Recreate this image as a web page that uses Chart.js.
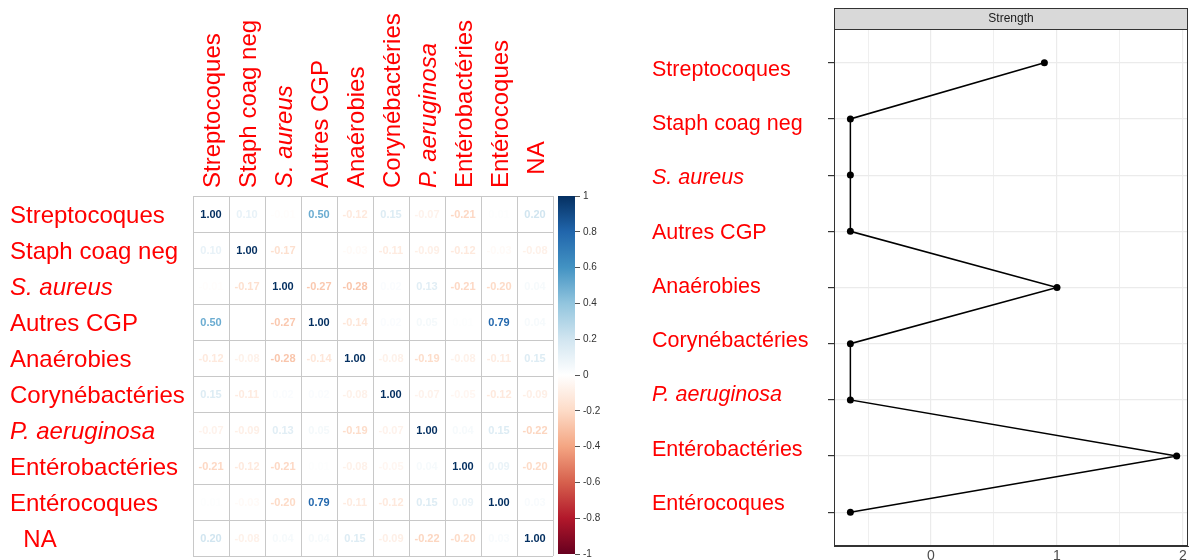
<!DOCTYPE html>
<html><head><meta charset="utf-8">
<script src="https://cdn.jsdelivr.net/npm/chart.js@4.4.1/dist/chart.umd.min.js"></script>
<style>
html,body{margin:0;padding:0;background:#fff;}
body{width:1192px;height:560px;position:relative;overflow:hidden;}
.box{position:absolute;top:0;height:560px;}
</style></head><body>
<div class="box" style="left:0;width:556px"><canvas id="corr"></canvas></div>
<div class="box" style="left:553px;width:67px"><canvas id="cbar"></canvas></div>
<div class="box" style="left:640px;width:552px"><canvas id="strength"></canvas></div>
<script>
// ---------- data ----------
const taxa = ["Streptocoques","Staph coag neg","S. aureus","Autres CGP","Anaérobies","Corynébactéries","P. aeruginosa","Entérobactéries","Entérocoques","  NA"];
const italicTaxa = ["S. aureus","P. aeruginosa"];
const rowStrep   = [1.00, 0.10, -0.01, 0.50, -0.12, 0.15, -0.07, -0.21, 0.01, 0.20];
const rowStaph   = [0.10, 1.00, -0.17, 0.00, -0.03, -0.11, -0.09, -0.12, -0.03, -0.08];
const rowSaureus = [-0.01, -0.17, 1.00, -0.27, -0.28, 0.02, 0.13, -0.21, -0.20, 0.04];
const rowAutres  = [0.50, 0.00, -0.27, 1.00, -0.14, 0.02, 0.05, 0.01, 0.79, 0.04];
const rowAnaer   = [-0.12, -0.08, -0.28, -0.14, 1.00, -0.08, -0.19, -0.08, -0.11, 0.15];
const rowCoryn   = [0.15, -0.11, 0.02, 0.02, -0.08, 1.00, -0.07, -0.05, -0.12, -0.09];
const rowPaer    = [-0.07, -0.09, 0.13, 0.05, -0.19, -0.07, 1.00, 0.04, 0.15, -0.22];
const rowEntBact = [-0.21, -0.12, -0.21, 0.01, -0.08, -0.05, 0.04, 1.00, 0.09, -0.20];
const rowEntCoq  = [0.01, -0.03, -0.20, 0.79, -0.11, -0.12, 0.15, 0.09, 1.00, 0.03];
const rowNA      = [0.20, -0.08, 0.04, 0.04, 0.15, -0.09, -0.22, -0.20, 0.03, 1.00];
const corrRows = [rowStrep,rowStaph,rowSaureus,rowAutres,rowAnaer,rowCoryn,rowPaer,rowEntBact,rowEntCoq,rowNA];
const colorbarTicks = [-1,-0.8,-0.6,-0.4,-0.2,0,0.2,0.4,0.6,0.8,1];
const rdbu = ["#67001F","#B2182B","#D6604D","#F4A582","#FDDBC7","#FFFFFF","#D1E5F0","#92C5DE","#4393C3","#2166AC","#053061"];
const strengthLabels = ["Streptocoques","Staph coag neg","S. aureus","Autres CGP","Anaérobies","Corynébactéries","P. aeruginosa","Entérobactéries","Entérocoques"];
const strengthValues = [0.90, -0.64, -0.64, -0.64, 1.00, -0.64, -0.64, 1.95, -0.64];
const strengthTicks = [-0.5, 0, 0.5, 1, 1.5, 2];

// ---------- helpers ----------
const FAMILY = '"Liberation Sans", Arial, Helvetica, sans-serif';
Chart.defaults.font.family = FAMILY;
function hex(c){return [parseInt(c.slice(1,3),16),parseInt(c.slice(3,5),16),parseInt(c.slice(5,7),16)];}
function corrColor(v){
  const t = Math.max(0, Math.min(10, (v+1)/2*10));
  const i = Math.min(9, Math.floor(t)), f = t - i;
  const a = hex(rdbu[i]), b = hex(rdbu[i+1]);
  return 'rgb(' + a.map((x,k)=>Math.round(x+(b[k]-x)*f)).join(',') + ')';
}
const isItalic = l => italicTaxa.includes(String(l).trim());
const noPad = s => { s.paddingTop = 0; s.paddingBottom = 0; s.paddingLeft = 0; s.paddingRight = 0; };

// ---------- correlation matrix ----------
const cells = [];
corrRows.forEach((row,i)=>row.forEach((v,j)=>cells.push({x:taxa[j], y:taxa[i], v:v})));
const cellText = {
  id:'cellText',
  afterDatasetsDraw(chart){
    const ctx = chart.ctx, meta = chart.getDatasetMeta(0);
    ctx.save();
    ctx.font = 'bold 11px ' + FAMILY;
    ctx.textAlign = 'center'; ctx.textBaseline = 'middle';
    meta.data.forEach((pt,k)=>{
      const v = cells[k].v;
      ctx.fillStyle = corrColor(v);
      ctx.fillText(v.toFixed(2), pt.x, pt.y + 0.5);
    });
    ctx.restore();
  }
};
const gridGrey = '#c8c8c8';
new Chart(document.getElementById('corr'), {
  type:'scatter',
  data:{datasets:[{data:cells, pointRadius:0, pointHoverRadius:0}]},
  options:{
    responsive:true, maintainAspectRatio:false, animation:false,
    layout:{padding:{left:10, right:3, top:0, bottom:4}},
    plugins:{legend:{display:false}, tooltip:{enabled:false}},
    events:[],
    scales:{
      x:{type:'category', labels:taxa, position:'top', offset:true,
         grid:{offset:true, color:gridGrey, drawTicks:false},
         border:{color:gridGrey},
         ticks:{color:'#ff0000', minRotation:90, maxRotation:90, autoSkip:false, padding:8, labelOffset:31,
                font:c=>({size:24, style:isItalic(c.tick && c.tick.label)?'italic':'normal'})},
         afterFit:s=>{s.height = 196; noPad(s);}},
      y:{type:'category', labels:taxa, offset:true,
         grid:{offset:true, color:gridGrey, drawTicks:false},
         border:{color:gridGrey},
         ticks:{color:'#ff0000', crossAlign:'far', autoSkip:false, padding:5, labelOffset:2,
                font:c=>({size:24, style:isItalic(c.tick && c.tick.label)?'italic':'normal'})},
         afterFit:s=>{s.width = 183; noPad(s);}}
    }
  },
  plugins:[cellText]
});

// ---------- colour bar ----------
new Chart(document.getElementById('cbar'), {
  type:'bar',
  data:{labels:[''], datasets:[{data:[[-1,1]], borderWidth:0, barPercentage:1, categoryPercentage:1,
    backgroundColor:c=>{
      const a = c.chart.chartArea; if(!a) return '#fff';
      const g = c.chart.ctx.createLinearGradient(0, a.bottom, 0, a.top);
      rdbu.forEach((col,i)=>g.addColorStop(i/10, col));
      return g;
    }}]},
  options:{
    responsive:true, maintainAspectRatio:false, animation:false, events:[],
    layout:{padding:{left:5, right:0, top:196, bottom:6}},
    plugins:{legend:{display:false}, tooltip:{enabled:false}},
    scales:{
      x:{display:false},
      y:{position:'right', min:-1, max:1,
         afterBuildTicks:s=>{s.ticks = colorbarTicks.map(v=>({value:v}));},
         ticks:{color:'#333', font:{size:10}, padding:3, callback:v=>String(+Number(v).toFixed(1))},
         grid:{drawOnChartArea:false, tickLength:5, color:'#555'},
         border:{display:false},
         afterFit:s=>{s.width = 45; noPad(s);}}
    }
  }
});

// ---------- strength panel ----------
const strip = {
  id:'strip',
  afterDraw(chart){
    const ctx = chart.ctx, a = chart.chartArea;
    ctx.save();
    ctx.strokeStyle = '#333'; ctx.lineWidth = 1;
    ctx.strokeRect(Math.round(a.left)+0.5, Math.round(a.top)+0.5, Math.round(a.right-a.left)-1, Math.round(a.bottom-a.top)-1);
    ctx.fillStyle = '#d9d9d9';
    ctx.fillRect(a.left, 8, a.right-a.left, a.top-8);
    ctx.strokeRect(Math.round(a.left)+0.5, 8.5, Math.round(a.right-a.left)-1, Math.round(a.top)-8);
    ctx.fillStyle = '#1a1a1a';
    ctx.font = '12px ' + FAMILY;
    ctx.textAlign = 'center'; ctx.textBaseline = 'middle';
    ctx.fillText('Strength', (a.left+a.right)/2, (8+a.top)/2 + 0.5);
    ctx.restore();
  }
};
new Chart(document.getElementById('strength'), {
  type:'scatter',
  data:{datasets:[{data:strengthValues.map((v,i)=>({x:v, y:i})), showLine:true, tension:0,
    borderColor:'#000', borderWidth:1.5, pointRadius:3.5, pointBackgroundColor:'#000', pointBorderWidth:0}]},
  options:{
    responsive:true, maintainAspectRatio:false, animation:false, events:[],
    layout:{padding:{left:12, right:4, top:29, bottom:0}},
    plugins:{legend:{display:false}, tooltip:{enabled:false}},
    scales:{
      x:{type:'linear', min:-0.77, max:2.04,
         afterBuildTicks:s=>{s.ticks = strengthTicks.map(v=>({value:v}));},
         ticks:{color:'#4d4d4d', font:{size:14}, padding:2, callback:v=>Number.isInteger(v)?String(v):''},
         grid:{color:'#ebebeb', lineWidth:c=>(c.tick && Number.isInteger(c.tick.value))?1.2:0.8, drawTicks:false},
         border:{color:'#333'},
         afterFit:s=>{s.height = 14;}},
      y:{type:'linear', reverse:true, min:-0.6, max:8.6, weight:0,
         afterBuildTicks:s=>{s.ticks = strengthLabels.map((_,i)=>({value:i}));},
         ticks:{display:false},
         grid:{color:'#ebebeb', lineWidth:1.2, tickLength:6, tickColor:'#333'},
         border:{color:'#333'},
         afterFit:s=>{s.width = 6;}},
      yLab:{type:'linear', position:'left', reverse:true, min:-0.7558, max:8.774, weight:1,
         afterBuildTicks:s=>{s.ticks = strengthLabels.map((_,i)=>({value:i}));},
         ticks:{color:'#ff0000', crossAlign:'far', padding:0, autoSkip:false,
                callback:v=>strengthLabels[v],
                font:c=>({size:21.5, style:isItalic(c.tick && strengthLabels[c.tick.value])?'italic':'normal'})},
         grid:{display:false, drawTicks:false},
         border:{display:false},
         afterFit:s=>{s.width = 176;}}
    }
  },
  plugins:[strip]
});
</script>
</body></html>
